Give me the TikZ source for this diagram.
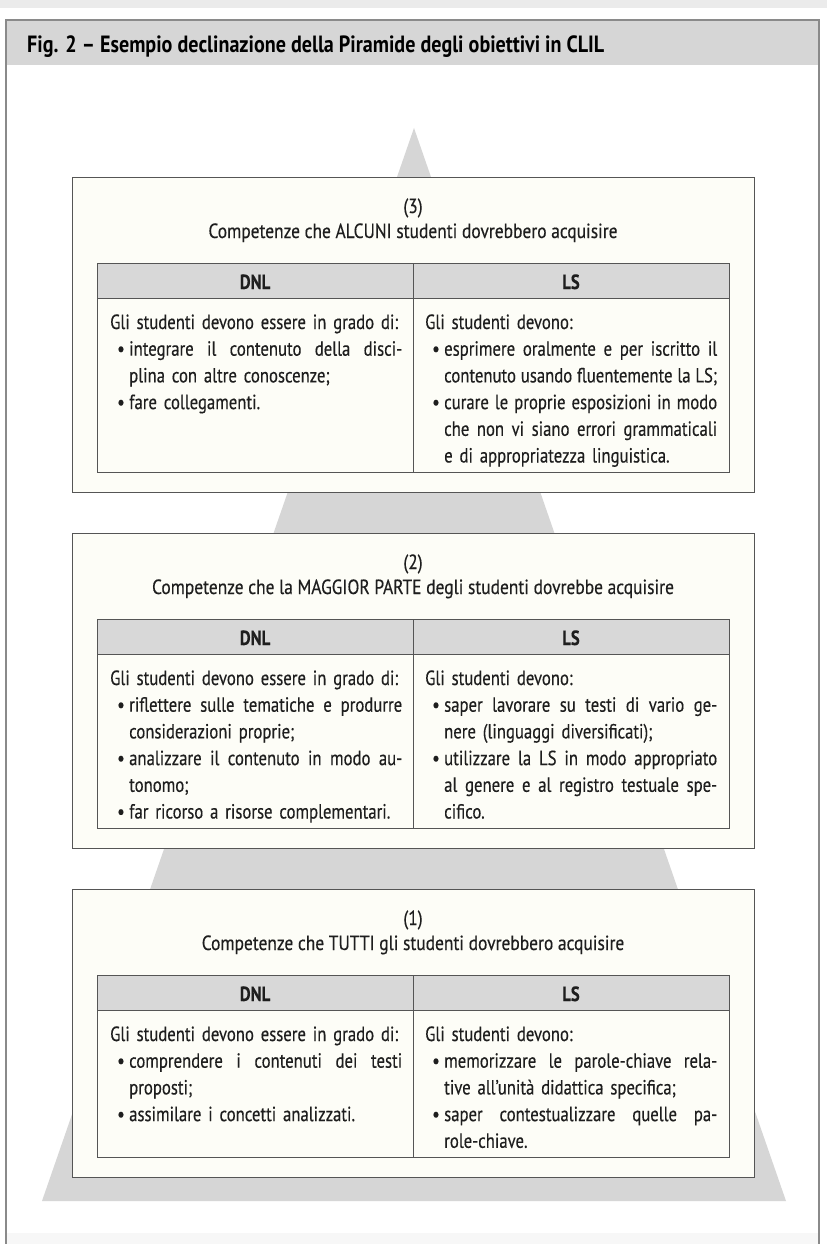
\documentclass[tikz,border=0pt]{standalone}
\usepackage{fontspec}
\setmainfont{PT Sans}[FakeStretch=0.815, FakeBold=0.35]
\newfontfamily\headfont{PT Sans}[FakeStretch=0.85, FakeBold=0.35]
\newfontfamily\titlefont{PT Sans}[FakeStretch=0.855]

\definecolor{bandgray}{HTML}{D6D6D6}
\definecolor{pyrgray}{HTML}{D6D6D6}
\definecolor{ivory}{HTML}{FDFDF7}
\definecolor{hdrgray}{HTML}{D8D8D8}
\definecolor{framec}{HTML}{8A8A8A}
\definecolor{linec}{HTML}{555555}
\definecolor{ink}{HTML}{1E1E1E}

% column geometry
\newlength\colw \setlength\colw{300pt}
\newlength\itw  \setlength\itw{273pt}
\newcommand\bodyfont{\fontsize{20.5}{26.7}\selectfont}
\newcommand\bul{\makebox[19pt][l]{\hspace{7pt}•}}
% a justified line: the word spaces share out the spare width
\newcommand\jbox[1]{\makebox[\itw][s]{\spaceskip=.2em plus 1fil minus .05em\relax #1}}
\newcommand\jitem[1]{\bul\jbox{#1}}
\newcommand\jcont[1]{\hspace*{19pt}\jbox{#1}}
\newcommand\litem[1]{\bul #1}
\newcommand\lcont[1]{\hspace*{19pt}#1}

\tikzset{
  tierbox/.style={draw=linec, line width=1.4pt, fill=ivory, inner sep=0pt,
                  anchor=north west, minimum width=682pt},
  cellbox/.style={draw=linec, line width=1.2pt, inner sep=0pt,
                  anchor=north west, minimum width=316pt},
  coltext/.style={anchor=base west, inner sep=0pt, text width=\colw,
                  align=left, font=\bodyfont, text=ink},
  headtext/.style={anchor=base, inner sep=0pt, font=\headfont\bodyfont, text=ink},
}

% one level of the pyramid: #1 id, #2 top, #3 box height, #4 label,
% #5 heading, #6 DNL column, #7 LS column
\newcommand\tier[7]{%
\begin{scope}[shift={(0,#2)}]
  \node[tierbox, minimum height=#3pt] (box#1) at (72,0) {};
  \node[headtext] (num#1) at (413,36) {(#4)};
  \node[headtext] (head#1) at (413,61) {#5};
  \node[cellbox, fill=hdrgray, minimum height=35pt] (dh#1) at (97,86) {};
  \node[cellbox, fill=hdrgray, minimum height=35pt] (lh#1) at (413,86) {};
  \node[cellbox, fill=ivory, minimum height={#3pt-141pt}] (db#1) at (97,121) {};
  \node[cellbox, fill=ivory, minimum height={#3pt-141pt}] (lb#1) at (413,121) {};
  \node[headtext, font=\bodyfont\bfseries] (dnl#1) at (255,112) {DNL};
  \node[headtext, font=\bodyfont\bfseries] (ls#1) at (571,112) {LS};
  \node[coltext] (dtxt#1) at (110,152) {#6};
  \node[coltext] (ltxt#1) at (425,152) {#7};
\end{scope}}

\begin{document}
\begin{tikzpicture}[x=1pt, y=-1pt]
\useasboundingbox (0,0) rectangle (827,1244);
\fill[white] (0,0) rectangle (827,1244);

% page edges
\fill[black!8] (0,0) rectangle (827,8);
\fill[black!3] (6,1233) rectangle (819,1244);

% title band and frame
\fill[bandgray] (6,20) rectangle (819,65);
\draw[framec, line width=2pt] (6,1244) -- (6,20) -- (819,20) -- (819,1244);
\node[anchor=base west, inner sep=0pt, text=black,
      font=\titlefont\bfseries\fontsize{23.5}{28}\selectfont] (title) at (27,53)
  {Fig. 2 – Esempio declinazione della Piramide degli obiettivi in CLIL};

% pyramid
\fill[pyrgray] (414,128) -- (42,1201) -- (786,1201) -- cycle;

\tier{3}{177}{315}{3}{Competenze che ALCUNI studenti dovrebbero acquisire}
{Gli studenti devono essere in grado di:\\
 \jitem{integrare il contenuto della disci-}\\
 \lcont{plina con altre conoscenze;}\\
 \litem{fare collegamenti.}}
{Gli studenti devono:\\
 \jitem{esprimere oralmente e per iscritto il}\\
 \jcont{contenuto usando fluentemente la LS;}\\
 \jitem{curare le proprie esposizioni in modo}\\
 \jcont{che non vi siano errori grammaticali}\\
 \lcont{e di appropriatezza linguistica.}}

\tier{2}{533}{315}{2}{Competenze che la MAGGIOR PARTE degli studenti dovrebbe acquisire}
{Gli studenti devono essere in grado di:\\
 \jitem{riflettere sulle tematiche e produrre}\\
 \lcont{considerazioni proprie;}\\
 \jitem{analizzare il contenuto in modo au-}\\
 \lcont{tonomo;}\\
 \litem{far ricorso a risorse complementari.}}
{Gli studenti devono:\\
 \jitem{saper lavorare su testi di vario ge-}\\
 \lcont{nere (linguaggi diversificati);}\\
 \jitem{utilizzare la LS in modo appropriato}\\
 \jcont{al genere e al registro testuale spe-}\\
 \lcont{cifico.}}

\tier{1}{889}{288}{1}{Competenze che TUTTI gli studenti dovrebbero acquisire}
{Gli studenti devono essere in grado di:\\
 \jitem{comprendere i contenuti dei testi}\\
 \lcont{proposti;}\\
 \litem{assimilare i concetti analizzati.}}
{Gli studenti devono:\\
 \jitem{memorizzare le parole-chiave rela-}\\
 \lcont{tive all’unità didattica specifica;}\\
 \jitem{saper contestualizzare quelle pa-}\\
 \lcont{role-chiave.}}
\end{tikzpicture}
\end{document}
